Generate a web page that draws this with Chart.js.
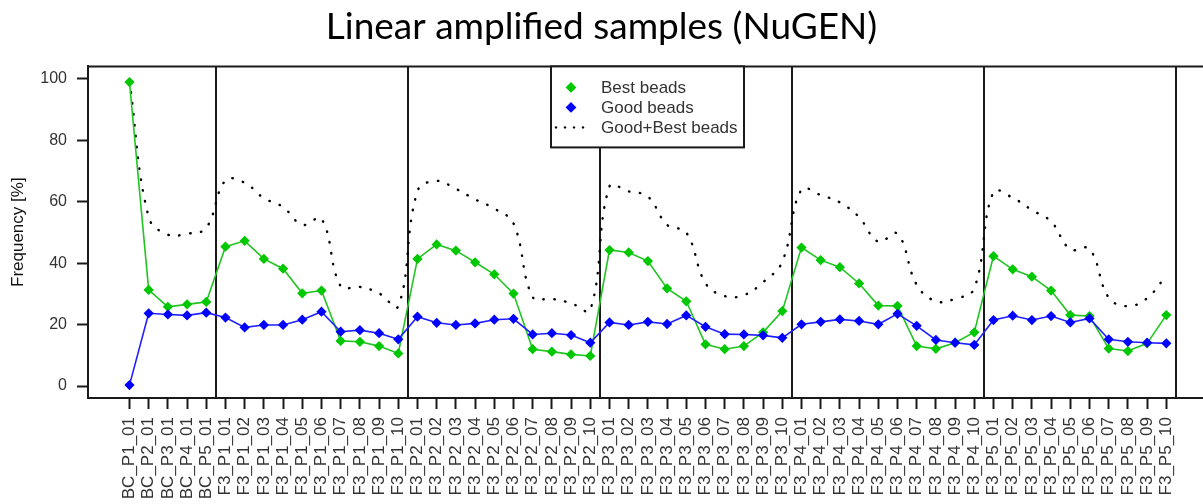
<!DOCTYPE html>
<html>
<head>
<meta charset="utf-8">
<title>Linear amplified samples (NuGEN)</title>
<script src="https://cdn.jsdelivr.net/npm/chart.js@4.4.0/dist/chart.umd.min.js"></script>
<style>
    html, body { margin: 0; padding: 0; background: #fff; overflow: hidden; }
    #contenedor { width: 1203px; height: 504px; position: relative; }
</style>
</head>
<body>
<div id="contenedor"><canvas id="grafico-beads"></canvas></div>
<script>
'use strict';

// Muestras (eje X)
const muestras = [
    'BC_P1_01', 'BC_P2_01', 'BC_P3_01', 'BC_P4_01', 'BC_P5_01',
    'F3_P1_01', 'F3_P1_02', 'F3_P1_03', 'F3_P1_04', 'F3_P1_05', 'F3_P1_06', 'F3_P1_07', 'F3_P1_08', 'F3_P1_09', 'F3_P1_10',
    'F3_P2_01', 'F3_P2_02', 'F3_P2_03', 'F3_P2_04', 'F3_P2_05', 'F3_P2_06', 'F3_P2_07', 'F3_P2_08', 'F3_P2_09', 'F3_P2_10',
    'F3_P3_01', 'F3_P3_02', 'F3_P3_03', 'F3_P3_04', 'F3_P3_05', 'F3_P3_06', 'F3_P3_07', 'F3_P3_08', 'F3_P3_09', 'F3_P3_10',
    'F3_P4_01', 'F3_P4_02', 'F3_P4_03', 'F3_P4_04', 'F3_P4_05', 'F3_P4_06', 'F3_P4_07', 'F3_P4_08', 'F3_P4_09', 'F3_P4_10',
    'F3_P5_01', 'F3_P5_02', 'F3_P5_03', 'F3_P5_04', 'F3_P5_05', 'F3_P5_06', 'F3_P5_07', 'F3_P5_08', 'F3_P5_09', 'F3_P5_10'
];

// Frecuencias [%]
const bestBeads = [
    99.0, 31.3, 25.8, 26.6, 27.4,
    45.4, 47.3, 41.4, 38.2, 30.2, 31.1, 14.7, 14.4, 13.0, 10.6,
    41.4, 46.1, 44.1, 40.3, 36.4, 30.1, 12.0, 11.2, 10.3, 9.8,
    44.3, 43.5, 40.7, 31.8, 27.6, 13.6, 12.0, 13.0, 17.5, 24.4,
    45.1, 41.0, 38.7, 33.4, 26.2, 26.1, 13.0, 12.1, 14.1, 17.5,
    42.3, 38.0, 35.6, 31.1, 23.1, 22.8, 12.2, 11.4, 13.9, 23.1
];

const goodBeads = [
    0.3, 23.7, 23.3, 23.0, 23.9,
    22.3, 19.1, 19.9, 19.9, 21.6, 24.2, 17.7, 18.2, 17.2, 15.2,
    22.6, 20.6, 19.9, 20.4, 21.6, 21.9, 16.8, 17.2, 16.6, 14.1,
    20.7, 19.9, 20.9, 20.2, 23.0, 19.3, 16.9, 16.8, 16.5, 15.7,
    20.1, 20.9, 21.7, 21.2, 20.1, 23.5, 19.6, 15.0, 14.1, 13.4,
    21.5, 22.9, 21.5, 22.8, 20.7, 22.0, 15.2, 14.4, 14.1, 13.9
];

const goodBestBeads = [
    99.3, 55.0, 49.3, 49.6, 51.5,
    67.0, 66.2, 61.2, 58.3, 52.5, 54.5, 32.5, 32.3, 30.2, 26.0,
    63.5, 66.8, 64.2, 60.8, 57.8, 53.0, 29.0, 28.4, 27.0, 24.8,
    65.0, 63.4, 61.7, 52.5, 50.0, 33.5, 29.3, 29.6, 33.8, 40.5,
    64.0, 62.2, 59.8, 55.0, 47.0, 49.6, 33.0, 27.6, 28.4, 31.8,
    63.2, 61.3, 57.3, 53.6, 44.5, 44.7, 28.8, 26.0, 28.6, 36.0
];

const ticksY = [0, 20, 40, 60, 80, 100];

// Separadores entre placas (posición en el eje de muestras)
const separadores = [4.5, 14.5, 24.5, 34.5, 44.5, 54.5];

const COLOR_EJE = '#1a1a1a';
const COLOR_TEXTO = '#333333';
const FUENTE = 'Liberation Sans, Arial, sans-serif';

/**
 * Dibuja el marco (arriba y la prolongación inferior) y las líneas entre placas.
 */
const marcoPlacas = {
    id: 'marcoPlacas',
    beforeDatasetsDraw(chart) {
        const { ctx, chartArea, scales } = chart;
        ctx.save();
        ctx.strokeStyle = COLOR_EJE;
        ctx.lineWidth = 2;
        ctx.beginPath();
        ctx.moveTo(chartArea.left - 1, chartArea.top);
        ctx.lineTo(chart.width, chartArea.top);
        ctx.moveTo(chartArea.right - 1, chartArea.bottom);
        ctx.lineTo(chart.width, chartArea.bottom);
        separadores.forEach(s => {
            const x = Math.round(scales.x.getPixelForValue(s));
            ctx.moveTo(x, chartArea.top);
            ctx.lineTo(x, chartArea.bottom);
        });
        ctx.stroke();
        ctx.restore();
    }
};

/**
 * Leyenda en caja, al estilo de R, dentro del área del gráfico.
 */
const leyendaCaja = {
    id: 'leyendaCaja',
    afterDatasetsDraw(chart) {
        const { ctx, chartArea } = chart;
        const x = 551, y = chartArea.top, ancho = 193, alto = 81;

        ctx.save();
        ctx.fillStyle = '#ffffff';
        ctx.fillRect(x, y, ancho, alto);
        ctx.strokeStyle = COLOR_EJE;
        ctx.lineWidth = 2;
        ctx.strokeRect(x, y, ancho, alto);

        chart.data.datasets.forEach((ds, i) => {
            const fy = y + 21 + i * 20;
            if (ds.borderDash) {
                ctx.fillStyle = ds.borderColor;
                for (let k = 0; k < 4; k++) {
                    ctx.beginPath();
                    ctx.arc(556 + k * 9, fy, 1.2, 0, Math.PI * 2);
                    ctx.fill();
                }
            } else {
                ctx.fillStyle = ds.pointBackgroundColor;
                ctx.strokeStyle = ds.pointBorderColor;
                Chart.helpers.drawPoint(ctx, { pointStyle: 'rectRot', radius: 4, borderWidth: 1 }, 571, fy);
            }
            ctx.fillStyle = COLOR_TEXTO;
            ctx.font = '17px ' + FUENTE;
            ctx.textBaseline = 'middle';
            ctx.textAlign = 'left';
            ctx.fillText(ds.label, 601, fy + 1);
        });
        ctx.restore();
    }
};

function crearGrafico() {
    const ctx = document.getElementById('grafico-beads').getContext('2d');
    const indices = muestras.map((_, i) => i);
    const serie = (valores) => valores.map((v, i) => ({ x: indices[i], y: v }));

    return new Chart(ctx, {
        type: 'line',
        data: {
            datasets: [
                {
                    label: 'Best beads',
                    data: serie(bestBeads),
                    borderColor: '#22c422',
                    backgroundColor: '#00c800',
                    pointBackgroundColor: '#00c800',
                    pointBorderColor: '#00c800',
                    pointStyle: 'rectRot',
                    pointRadius: 4,
                    borderWidth: 1.6,
                    tension: 0,
                    order: 1
                },
                {
                    label: 'Good beads',
                    data: serie(goodBeads),
                    borderColor: '#2020ff',
                    backgroundColor: '#0000ff',
                    pointBackgroundColor: '#0000ff',
                    pointBorderColor: '#0000ff',
                    pointStyle: 'rectRot',
                    pointRadius: 4,
                    borderWidth: 1.6,
                    tension: 0,
                    order: 0
                },
                {
                    label: 'Good+Best beads',
                    data: serie(goodBestBeads),
                    borderColor: '#000000',
                    borderWidth: 2.4,
                    borderDash: [0.5, 10.5],
                    borderCapStyle: 'round',
                    pointRadius: 0,
                    tension: 0.4,
                    order: 2
                }
            ]
        },
        options: {
            responsive: true,
            maintainAspectRatio: false,
            animation: false,
            layout: { padding: 0 },
            plugins: {
                legend: { display: false },
                tooltip: { enabled: false },
                title: {
                    display: true,
                    text: 'Linear amplified samples (NuGEN)',
                    color: '#000000',
                    font: { family: 'Lato, Carlito, sans-serif', size: 37, weight: 'normal' },
                    padding: { top: 5, bottom: 17 }
                }
            },
            scales: {
                x: {
                    type: 'linear',
                    min: -2.16,
                    max: 55.62,
                    afterFit: (escala) => {
                        escala.height = 106;
                        escala.paddingLeft = 0;
                        escala.paddingRight = 0;
                    },
                    afterBuildTicks: (escala) => { escala.ticks = indices.map(v => ({ value: v })); },
                    grid: { drawOnChartArea: false, drawTicks: true, tickLength: 11, tickWidth: 2, tickColor: COLOR_EJE },
                    border: { display: true, color: COLOR_EJE, width: 2 },
                    ticks: {
                        autoSkip: false,
                        minRotation: 90,
                        maxRotation: 90,
                        padding: 8,
                        color: COLOR_TEXTO,
                        font: { family: FUENTE, size: 17 },
                        callback: (v) => muestras[v]
                    }
                },
                y: {
                    min: -3.9,
                    max: 104.1,
                    afterFit: (escala) => {
                        escala.width = 88;
                        escala.paddingTop = 0;
                        escala.paddingBottom = 0;
                    },
                    afterBuildTicks: (escala) => { escala.ticks = ticksY.map(v => ({ value: v })); },
                    grid: { drawOnChartArea: false, drawTicks: true, tickLength: 11, tickWidth: 2, tickColor: COLOR_EJE },
                    border: { display: true, color: COLOR_EJE, width: 2 },
                    ticks: {
                        padding: 10,
                        color: COLOR_TEXTO,
                        font: { family: FUENTE, size: 16 }
                    },
                    title: {
                        display: true,
                        text: 'Frequency [%]',
                        color: '#111111',
                        font: { family: FUENTE, size: 17 },
                        padding: { top: 8, bottom: 0 }
                    }
                }
            }
        },
        plugins: [marcoPlacas, leyendaCaja]
    });
}

crearGrafico();
</script>
</body>
</html>
